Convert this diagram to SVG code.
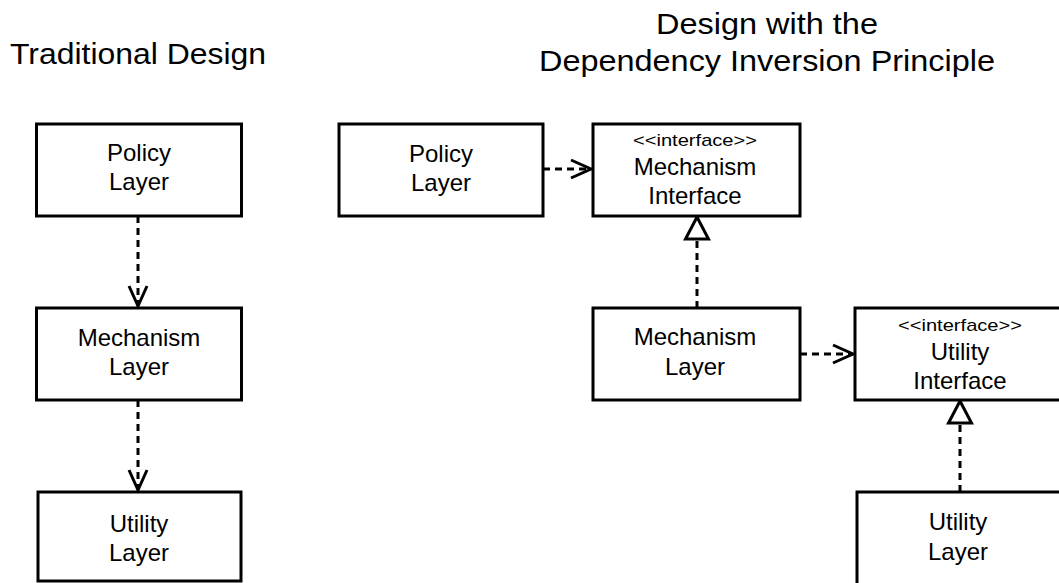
<svg xmlns="http://www.w3.org/2000/svg" width="1059" height="583" viewBox="0 0 1059 583">
<style>
.box{fill:#fff;stroke:#000;stroke-width:3}
.t{font-family:"Liberation Sans",Arial,Helvetica,sans-serif;font-size:24px;fill:#000;text-anchor:middle}
.s{font-family:"Liberation Sans",Arial,Helvetica,sans-serif;font-size:17px;fill:#000;text-anchor:middle}
.h{font-family:"Liberation Sans",Arial,Helvetica,sans-serif;font-size:29px;fill:#000;text-anchor:middle}
.c{fill:none;stroke:#000;stroke-width:3;stroke-dasharray:7 5}
</style>
<defs>
<marker id="open" markerUnits="userSpaceOnUse" viewBox="-2 -2 24 22" refX="20" refY="9" markerWidth="24" markerHeight="22" orient="auto">
<path d="M0,0 L20,9 L0,18" fill="none" stroke="#000" stroke-width="3" stroke-dasharray="none"/>
</marker>
<marker id="tri" markerUnits="userSpaceOnUse" viewBox="-2 -14 26 28" refX="22" refY="0" markerWidth="26" markerHeight="28" orient="auto">
<path d="M0,-11.5 L22,0 L0,11.5 Z" fill="#fff" stroke="#000" stroke-width="3" stroke-dasharray="none"/>
</marker>
</defs>
<g id="titles">
<text class="h" x="138" y="64" textLength="256" lengthAdjust="spacingAndGlyphs">Traditional Design</text>
<text class="h" x="767" y="34" textLength="222" lengthAdjust="spacingAndGlyphs">Design with the</text>
<text class="h" x="767" y="71" textLength="456" lengthAdjust="spacingAndGlyphs">Dependency Inversion Principle</text>
</g>
<g id="connectors">
<line class="c" x1="138" y1="216" x2="138" y2="306" marker-end="url(#open)"/>
<line class="c" x1="138" y1="400" x2="138" y2="490" marker-end="url(#open)"/>
<line class="c" x1="543" y1="169" x2="591" y2="169" marker-end="url(#open)"/>
<line class="c" x1="697" y1="308" x2="697" y2="217" marker-end="url(#tri)"/>
<line class="c" x1="800" y1="354" x2="853" y2="354" marker-end="url(#open)"/>
<line class="c" x1="960" y1="492" x2="960" y2="401" marker-end="url(#tri)"/>
</g>
<g id="trad-policy">
<rect class="box" x="36.5" y="124" width="205" height="92"/>
<text class="t" x="139" y="161">Policy</text>
<text class="t" x="139" y="190">Layer</text>
</g>
<g id="trad-mechanism">
<rect class="box" x="36.5" y="308" width="205" height="92"/>
<text class="t" x="139" y="346">Mechanism</text>
<text class="t" x="139" y="375">Layer</text>
</g>
<g id="trad-utility">
<rect class="box" x="38" y="492" width="203" height="89"/>
<text class="t" x="139" y="532">Utility</text>
<text class="t" x="139" y="561">Layer</text>
</g>
<g id="dip-policy">
<rect class="box" x="339" y="124" width="204" height="92"/>
<text class="t" x="441" y="162">Policy</text>
<text class="t" x="441" y="191">Layer</text>
</g>
<g id="dip-mechanism-interface">
<rect class="box" x="593" y="124" width="207" height="92"/>
<text class="s" x="695" y="146" textLength="124" lengthAdjust="spacingAndGlyphs">&lt;&lt;interface&gt;&gt;</text>
<text class="t" x="695" y="175">Mechanism</text>
<text class="t" x="695" y="204">Interface</text>
</g>
<g id="dip-mechanism">
<rect class="box" x="593" y="308" width="207" height="92"/>
<text class="t" x="695" y="345">Mechanism</text>
<text class="t" x="695" y="375">Layer</text>
</g>
<g id="dip-utility-interface">
<rect class="box" x="855" y="308" width="210" height="92"/>
<text class="s" x="960" y="331" textLength="124" lengthAdjust="spacingAndGlyphs">&lt;&lt;interface&gt;&gt;</text>
<text class="t" x="960" y="360">Utility</text>
<text class="t" x="960" y="389">Interface</text>
</g>
<g id="dip-utility">
<rect class="box" x="857" y="492" width="210" height="100"/>
<text class="t" x="958" y="530">Utility</text>
<text class="t" x="958" y="560">Layer</text>
</g>
</svg>
